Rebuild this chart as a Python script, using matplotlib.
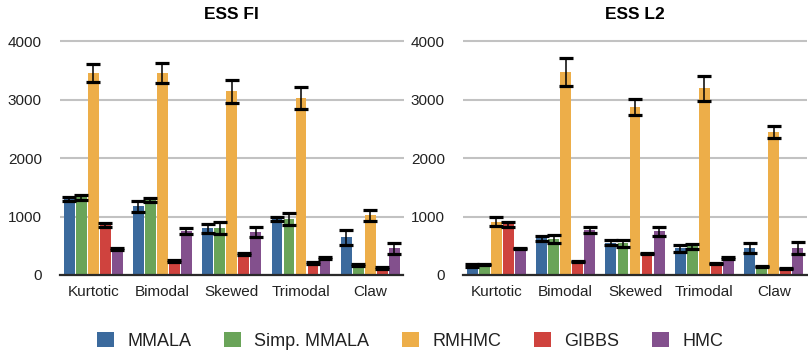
import matplotlib
matplotlib.use("Agg")
import matplotlib.pyplot as plt
from matplotlib.patches import Patch
import numpy as np

plt.rcParams['font.family'] = ['Liberation Sans', 'DejaVu Sans']

categories = ["Kurtotic", "Bimodal", "Skewed", "Trimodal", "Claw"]
methods = ["MMALA", "Simp. MMALA", "RMHMC", "GIBBS", "HMC"]
colors = ["#3B6A9D", "#6AA459", "#EDAE49", "#CF433E", "#83508D"]

# ESS FI
mmala_fi = [1300, 1180, 800, 960, 650]
simp_fi = [1330, 1280, 800, 960, 170]
rmhmc_fi = [3455, 3460, 3145, 3025, 1025]
gibbs_fi = [855, 235, 360, 205, 120]
hmc_fi = [445, 750, 735, 290, 460]
mmala_fi_err = [40, 95, 77, 40, 128]
simp_fi_err = [40, 30, 100, 100, 15]
rmhmc_fi_err = [150, 170, 195, 190, 95]
gibbs_fi_err = [30, 15, 10, 15, 15]
hmc_fi_err = [10, 50, 85, 10, 95]

# ESS L2
mmala_l2 = [165, 625, 555, 455, 455]
simp_l2 = [180, 610, 540, 490, 145]
rmhmc_l2 = [915, 3470, 2870, 3195, 2445]
gibbs_l2 = [865, 230, 370, 195, 110]
hmc_l2 = [455, 765, 745, 285, 455]
mmala_l2_err = [20, 35, 45, 55, 85]
simp_l2_err = [15, 68, 55, 45, 10]
rmhmc_l2_err = [78, 240, 135, 210, 97]
gibbs_l2_err = [35, 10, 10, 15, 10]
hmc_l2_err = [10, 50, 85, 15, 103]

yticks = [0, 1000, 2000, 3000, 4000]

panels = [
    ("ESS FI", [mmala_fi, simp_fi, rmhmc_fi, gibbs_fi, hmc_fi],
     [mmala_fi_err, simp_fi_err, rmhmc_fi_err, gibbs_fi_err, hmc_fi_err]),
    ("ESS L2", [mmala_l2, simp_l2, rmhmc_l2, gibbs_l2, hmc_l2],
     [mmala_l2_err, simp_l2_err, rmhmc_l2_err, gibbs_l2_err, hmc_l2_err]),
]

W, H = 808, 350
fig = plt.figure(figsize=(W / 100, H / 100), dpi=100)

ymax = 4050
ax_bottom_px = 75
ax_h_px = 236.6
axes_px = [(60, 343.5), (463, 344)]

x = np.arange(len(categories))
pitch = 0.1733
bw = 0.158

for (title, series, errs), (left, width) in zip(panels, axes_px):
    ax = fig.add_axes([left / W, ax_bottom_px / H, width / W, ax_h_px / H])
    for i, (vals, err, c) in enumerate(zip(series, errs, colors)):
        pos = x + (i - 2) * pitch
        ax.bar(pos, vals, width=bw, color=c, zorder=2)
        ax.errorbar(pos, vals, yerr=err, fmt='none', ecolor='black',
                    elinewidth=1.1, capsize=4.8, capthick=2.3, zorder=3)
    ax.set_xlim(-0.48, 4.48)
    ax.set_ylim(0, ymax)
    ax.set_yticks(yticks)
    ax.set_yticklabels([str(t) for t in yticks])
    ax.set_xticks(x)
    ax.set_xticklabels(categories)
    ax.tick_params(axis='both', length=0, labelsize=11, colors='#222222')
    ax.tick_params(axis='y', pad=13)
    ax.tick_params(axis='x', pad=7)
    ax.yaxis.grid(True, color='#c2c2c2', linewidth=1.5, zorder=0)
    ax.set_axisbelow(True)
    for s in ['top', 'right', 'left']:
        ax.spines[s].set_visible(False)
    ax.spines['bottom'].set_color('#2a2a2a')
    ax.spines['bottom'].set_linewidth(1.6)
    ax.spines['bottom'].set_zorder(4)
    ax.set_title(title, fontsize=12.5, fontweight='bold', pad=14)

handles = [Patch(facecolor=c, edgecolor='none', label=m) for m, c in zip(methods, colors)]
leg = fig.legend(handles=handles, loc='center', bbox_to_anchor=(410 / W, 9 / H), ncol=5,
                 frameon=False, fontsize=13, handlelength=0.94, handleheight=0.94,
                 handletextpad=0.72, columnspacing=1.83, borderaxespad=0, borderpad=0)
for t in leg.get_texts():
    t.set_color('#222222')

fig.savefig("out.png", dpi=100)
